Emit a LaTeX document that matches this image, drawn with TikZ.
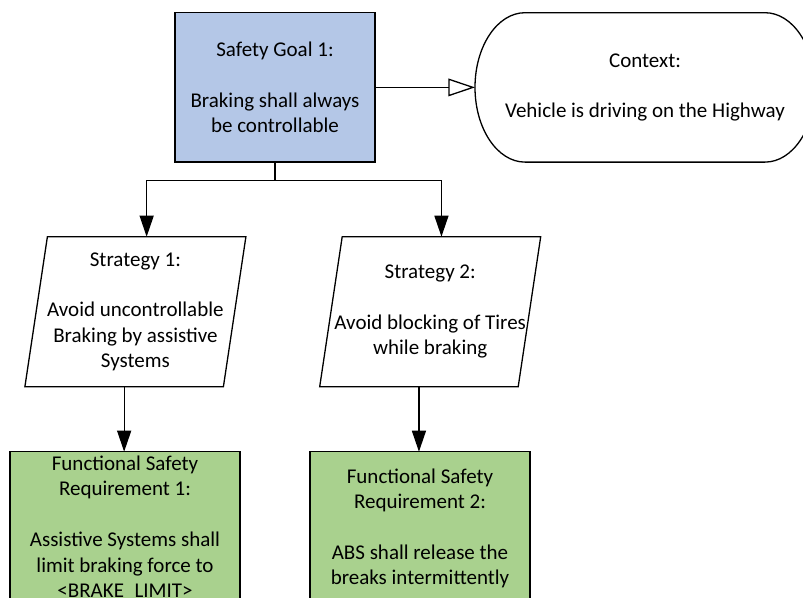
\documentclass[tikz,border=0pt]{standalone}
\usepackage{fontspec}
\setmainfont{Carlito}
\usetikzlibrary{arrows.meta}
\definecolor{goalblue}{RGB}{180,199,231}
\definecolor{reqgreen}{RGB}{169,209,142}
\begin{document}
\begin{tikzpicture}[x=1pt,y=1pt,line width=1.3pt,
  font=\fontsize{21}{25.4}\selectfont,
  txt/.style={align=center,inner sep=0pt,outer sep=0pt},
  goalbox/.style={txt,draw=black,fill=goalblue,minimum width=200pt,minimum height=149.3pt},
  ctxbox/.style={txt,minimum width=340pt,minimum height=149.3pt},
  stratbox/.style={txt,minimum width=198.5pt,minimum height=150pt},
  reqbox/.style={txt,draw=black,fill=reqgreen,minimum height=153pt},
  solidarrow/.style={-{Triangle[length=21pt,width=14pt]}},
  openarrow/.style={-{Triangle[open,length=26.7pt,width=17.7pt]}}
]
\useasboundingbox (0,0) rectangle (803,-597);
\clip (0,0) rectangle (803,-597);
\fill[white] (0,0) rectangle (803,-597);

% Safety goal
\node[goalbox] (sg) at (275,-87.4) {Safety Goal 1:\\[25.4pt]Braking shall always\\be controllable};

% Context (stadium with elliptic ends)
\draw (525,-12.7) -- (765,-12.7)
  arc[start angle=90,end angle=-90,x radius=50,y radius=74.7]
  -- (525,-162.1)
  arc[start angle=270,end angle=90,x radius=50,y radius=74.7] -- cycle;
\node[ctxbox] (ctx) at (645,-87.4) {Context:\\[25.4pt]Vehicle is driving on the Highway};

% Strategies
\node[stratbox] (s1) at (135.4,-311.7) {Strategy 1:\\[25.4pt]Avoid uncontrollable\\Braking by assistive\\Systems};
\draw ([xshift=11.25pt]s1.north west) -- ([xshift=11.25pt]s1.north east)
  -- ([xshift=-11.25pt]s1.south east) -- ([xshift=-11.25pt]s1.south west) -- cycle;
\node[stratbox] (s2) at (430.2,-311.7) {Strategy 2:\\[25.4pt]Avoid blocking of Tires\\while braking};
\draw ([xshift=11.25pt]s2.north west) -- ([xshift=11.25pt]s2.north east)
  -- ([xshift=-11.25pt]s2.south east) -- ([xshift=-11.25pt]s2.south west) -- cycle;

% Requirements
\node[reqbox,minimum width=230pt] (r1) at (125,-528.2) {Functional Safety\\Requirement 1:\\[25.4pt]Assistive Systems shall\\limit braking force to\\<BRAKE\_LIMIT>};
\node[reqbox,minimum width=220pt] (r2) at (420,-528.2) {Functional Safety\\Requirement 2:\\[25.4pt]ABS shall release the\\breaks intermittently};

% Connectors
\draw[openarrow] (sg.east) -- (ctx.west);
\coordinate (j) at (275,-180.7);
\draw (sg.south) -- (j);
\draw[solidarrow] (j) -| ([xshift=11.25pt]s1.north);
\draw[solidarrow] (j) -| ([xshift=11.25pt]s2.north);
\draw[solidarrow] ([xshift=-11.25pt]s1.south) -- ([xshift=-11.25pt]s1.south |- r1.north);
\draw[solidarrow] ([xshift=-11.25pt]s2.south) -- ([xshift=-11.25pt]s2.south |- r2.north);
\end{tikzpicture}
\end{document}
